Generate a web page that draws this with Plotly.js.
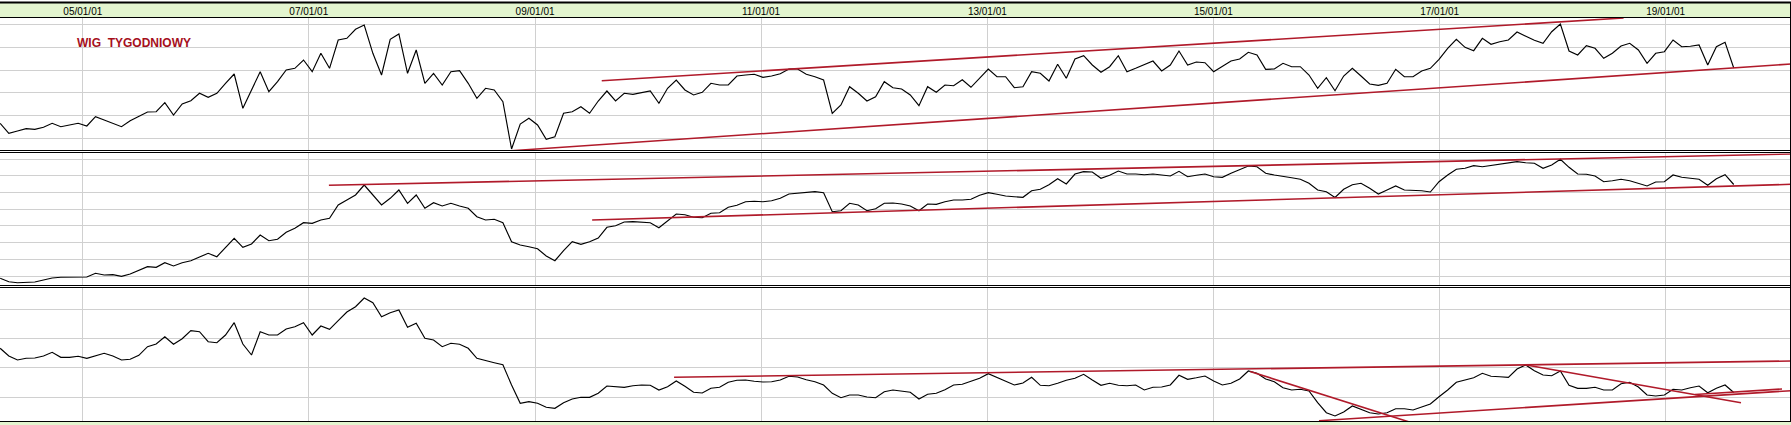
<!DOCTYPE html>
<html>
<head>
<meta charset="utf-8">
<script src="https://cdn.plot.ly/plotly-3.0.1.min.js"></script>
<style>
html,body{margin:0;padding:0;background:#ffffff;overflow:hidden}
#chart{width:1791px;height:425px}
</style>
</head>
<body>
<div id="chart"></div>
<script>
// ---------------- DATA ----------------
// sampled every 4 weeks starting from the first bar of the chart
const seriesStart = [2004, 3, 9];   // 2004-04-09 (month is 0-based)
const stepDays = 28;

// panel 1 : "WIG TYGODNIOWY" (relative level)
const wigWeekly = [
 27.7,17.7,20,22.3,21.7,23.7,27.7,24.3,26,27.7,
 25,34.3,31,27.7,24.3,30.3,35,39,39.3,48.3,
 36,47,50.3,57.7,53.7,57.7,67.7,77,42.7,61,
 79.3,59.3,69.3,81,82.7,91,79.3,97.7,82.7,111,
 112.7,121.7,126,97.7,76,111.7,117,77.7,101,67.7,
 77.7,66,79.3,80.3,67.7,52.7,62.7,61,49.3,2,
 27,32.7,26,11.7,14.3,37.7,39.3,44.3,37.7,50,
 60,50,57.7,56.7,58,60,47.7,62.7,71,61,
 56,58.7,67.7,66,66,75,76,76.7,73.7,75,
 77.3,82,82,76.7,74.3,71,37.7,46,64.3,57.7,
 50,54.3,69.3,63.3,62,56,45.3,64.3,58.7,66,
 65.3,71.3,63.7,72.7,82,74.3,74.3,63.3,64.3,79.3,
 77.7,70,86.7,72.7,92,95.3,86,78.7,84.3,95.3,
 79.3,82.7,86,90,80,86,100,86,89,88.3,
 79.3,84.3,90,92,98.7,96,81.7,82,87.7,84.3,
 84.3,76,62.7,73.3,60.3,75,82.7,75,67,65.7,
 67.7,81.7,74.3,74.3,80,82.7,91.7,102.7,111.7,103.7,
 100.3,112.7,106.7,109.3,111,119,115,110.7,107.7,119.3,
 127,100,96,105.3,102.7,92.7,97.7,105,107.7,101,
 87.7,97.7,99.3,111,104.3,104.7,106,86,104.3,108.7,
 83
];

// panel 2 (relative level)
const panel2Series = [
 7.7,4.3,3.3,4,4,6,8,8.7,8.7,9.3,
 9,12.7,11,11.3,9.7,12,15.3,19.3,18.7,23.3,
 20,23.3,25.3,28.7,32.7,29.3,38.7,47.7,38.7,42,
 51,45.3,46.7,53.7,57.7,63.3,62.7,66,67.7,81,
 86,91,101,91,81,87.7,96,82.7,91,77.7,
 83.3,80,82.7,80,77.7,69.3,66,66.7,63.3,44.3,
 41,39.3,37.3,30,25.3,35.3,44.3,41.7,44.3,48,
 58.7,60.3,64,64.3,63.7,63.3,58.3,65.3,72,71.3,
 68.7,68.3,72.7,73.3,78.7,80.7,84.3,84.7,84.3,85.3,
 87.7,92,92.7,94,94.3,93.3,74.3,75.3,82.7,81,
 75.3,77.3,82.7,83,82,80,75.3,82,81.7,84.3,
 86,86,86.7,90.7,93.3,91.7,90,89.3,88.7,95.3,
 96.7,101.3,107.3,102,112,114.3,114,107.7,110.7,115,
 112,112,111.3,112,110.7,110,114.7,109.3,110.7,112,
 109.3,108.7,112.7,116,120,119.3,112.7,111,110,108.3,
 106.7,102.7,96,94.3,88.5,96.7,101.3,102.7,97.7,92,
 96,100,96,96,95.3,94,104.3,111,116.7,117.7,
 120.3,119.3,120.7,122,123.3,124.3,123.3,122.7,117.7,121,
 126.7,118.7,112,111.7,110,104.3,105.3,106.7,105.3,103,
 100,104,104.3,111,108.7,107.7,106.7,100.7,107.3,111.3,
 101.5
];

// panel 3 (relative level)
const panel3Series = [
 72.7,65,61,62.7,63,65,68.7,63.7,63.7,64.7,
 62.7,65,67.7,65,61,61.7,65.7,74.3,77,84.3,
 76.7,82.3,90.3,89.3,79.3,78.3,86,98.3,77,66,
 89.3,86,86,92,94.3,98.3,86,95,91.7,100.3,
 109,114.3,123,118.3,104.3,108.3,111,93.7,97.7,82.7,
 81,74.3,77.7,76.7,72.7,62.7,60.3,58.3,56.3,36,
 17.7,19.3,17.7,13.7,12.7,18.3,22,23.7,23.7,27.7,
 35,34,33.7,35.3,36,35.7,31,34.3,40,34.7,
 28.7,28,32.7,33.7,38.7,40.7,41,39.7,39,39.3,
 41,44.7,44,41.3,39.3,36,27.7,23.3,26,26,
 24,23.3,29.3,31,30,28.7,22,26.7,27.7,31.3,
 36,36.7,39.7,42.7,47.3,43.7,40,36,38,43.7,
 35.7,35.3,37.7,40.7,42.7,46.7,41,35.7,37.7,35.7,
 35.3,36,31,33.7,34,36,45.7,41.7,43.2,45,
 40,36,37.7,42,50,47.7,42,39.3,33.3,31,
 31.7,30,18.3,8.3,5,9,15,11.7,8.3,7,
 8.3,12.3,12.3,11,14.3,17,24.3,31,38.7,41,
 43.3,47.7,44.7,44.3,43.7,52,56,50.3,46,45.3,
 50,35.7,32.7,32.7,33.7,31,31,37.3,38.7,34,
 26,25,26,31.7,31,33.3,35,28.3,32.7,36,
 28.5
];

// trend lines: [start (decimal year), start level, end (decimal year), end level]
const panel1Trends = [
 [2008.788, 0.3, 2020.110, 87],
 [2009.590, 70.3, 2018.628, 133]
];
const panel2Trends = [
 [2007.178, 100.7, 2020.110, 132],
 [2009.505, 66, 2020.110, 101.7]
];
const panel3Trends = [
 [2010.230, 43.7, 2020.110, 60],
 [2015.325, 49.5, 2016.760, -2],
 [2017.766, 56, 2019.667, 18.3],
 [2015.935, 0.3, 2020.110, 30.3],
 [2019.261, 26.5, 2020.030, 32]
];

const tickDates  = ['2005-01-01','2007-01-01','2009-01-01','2011-01-01','2013-01-01','2015-01-01','2017-01-01','2019-01-01'];
const tickLabels = ['05/01/01','07/01/01','09/01/01','11/01/01','13/01/01','15/01/01','17/01/01','19/01/01'];
const chartTitle = 'WIG \u00a0TYGODNIOWY';

// ---------------- HELPERS ----------------
function iso(ms){ return new Date(ms).toISOString().replace('T',' ').slice(0,19); }
function yearToDate(y){
  const yr = Math.floor(y);
  const s = Date.UTC(yr,0,1), e = Date.UTC(yr+1,0,1);
  return iso(s + (y-yr)*(e-s));
}
const t0 = Date.UTC(seriesStart[0], seriesStart[1], seriesStart[2]);
function datesFor(arr){ return arr.map((_,i)=>iso(t0 + i*stepDays*86400000)); }

const W = 1791, H = 425;
function py(px){ return 1 - px/H; }
function pxX(px){ return px/W; }

const LINE_COLOR = '#000000';
const TREND_COLOR = '#b01a2a';
const GRID = '#d0d0d0';

const traces = [];
function addSeries(vals, xa, ya){
  traces.push({type:'scatter', mode:'lines', x:datesFor(vals), y:vals, xaxis:xa, yaxis:ya,
    line:{color:LINE_COLOR, width:1.15}, hoverinfo:'skip', showlegend:false});
}
function addTrends(list, xa, ya){
  list.forEach(t=>{
    traces.push({type:'scatter', mode:'lines', x:[yearToDate(t[0]), yearToDate(t[2])], y:[t[1], t[3]],
      xaxis:xa, yaxis:ya, line:{color:TREND_COLOR, width:1.6}, hoverinfo:'skip', showlegend:false});
  });
}
addSeries(wigWeekly,'x','y');     addTrends(panel1Trends,'x','y');
addSeries(panel2Series,'x2','y2'); addTrends(panel2Trends,'x2','y2');
addSeries(panel3Series,'x3','y3'); addTrends(panel3Trends,'x3','y3');

const xRange = ['2004-04-08 12:00:00','2020-02-10 00:00:00'];
function xAxis(extra){
  return Object.assign({
    type:'date', range:xRange, showgrid:true, gridcolor:GRID, gridwidth:1,
    tickmode:'array', tickvals:tickDates, ticktext:tickLabels,
    zeroline:false, showline:false, ticks:'', showticklabels:false, fixedrange:true
  }, extra);
}
function yAxis(domain, range, tick0, dtick, anchor){
  return {domain:domain, range:range, tick0:tick0, dtick:dtick, tickmode:'linear',
    showgrid:true, gridcolor:GRID, gridwidth:1, zeroline:false, showline:false,
    showticklabels:false, ticks:'', anchor:anchor, fixedrange:true};
}

const dom1 = [py(150.5), py(18)];
const dom2 = [py(285.2), py(153.2)];
const dom3 = [py(421), py(288.2)];

const shapes = [];
// header band
shapes.push({type:'rect', xref:'paper', yref:'paper', x0:0, x1:1, y0:py(17.5), y1:py(2.5),
  fillcolor:'#e3f5cf', line:{width:0}, layer:'below'});
// footer band
shapes.push({type:'rect', xref:'paper', yref:'paper', x0:0, x1:1, y0:0, y1:py(421.5),
  fillcolor:'#e3f5cf', line:{width:0}, layer:'below'});
function hline(ypx, w){
  shapes.push({type:'line', xref:'paper', yref:'paper', x0:0, x1:1, y0:py(ypx), y1:py(ypx),
    line:{color:'#000000', width:w}, layer:'above'});
}
hline(2.5, 2);
hline(17.5, 1);
hline(150.5, 1); hline(152.5, 1);
hline(285.5, 1); hline(287.5, 1);
hline(421.5, 1);
shapes.push({type:'line', xref:'paper', yref:'paper', x0:pxX(1790.5), x1:pxX(1790.5), y0:py(421.5), y1:py(2.5),
  line:{color:'#000000', width:1}, layer:'above'});

const layout = {
  width:W, height:H,
  margin:{l:0, r:0, t:0, b:0, pad:0},
  paper_bgcolor:'#ffffff', plot_bgcolor:'#ffffff',
  showlegend:false,
  font:{family:'Liberation Sans, Arial, sans-serif', size:10, color:'#000000'},
  xaxis: xAxis({anchor:'y', side:'top', showticklabels:true,
    tickfont:{family:'Liberation Sans, Arial, sans-serif', size:10, color:'#000000'}}),
  xaxis2: xAxis({anchor:'y2', matches:'x'}),
  xaxis3: xAxis({anchor:'y3', matches:'x'}),
  yaxis:  yAxis(dom1, [0.5, 133], 12.7, 22.67, 'x'),
  yaxis2: yAxis(dom2, [0.8, 132.8], 10, 16.67, 'x2'),
  yaxis3: yAxis(dom3, [0, 132.8], 24, 29.33, 'x3'),
  shapes: shapes,
  annotations:[{
    xref:'paper', yref:'paper', x:pxX(75), y:py(42.7), xanchor:'left', yanchor:'middle',
    text:'<b>'+chartTitle+'</b>', showarrow:false,
    font:{family:'Liberation Sans, Arial, sans-serif', size:12, color:'#a50f1c'}
  }]
};

Plotly.newPlot('chart', traces, layout, {staticPlot:true, displayModeBar:false, responsive:false});
</script>
</body>
</html>
